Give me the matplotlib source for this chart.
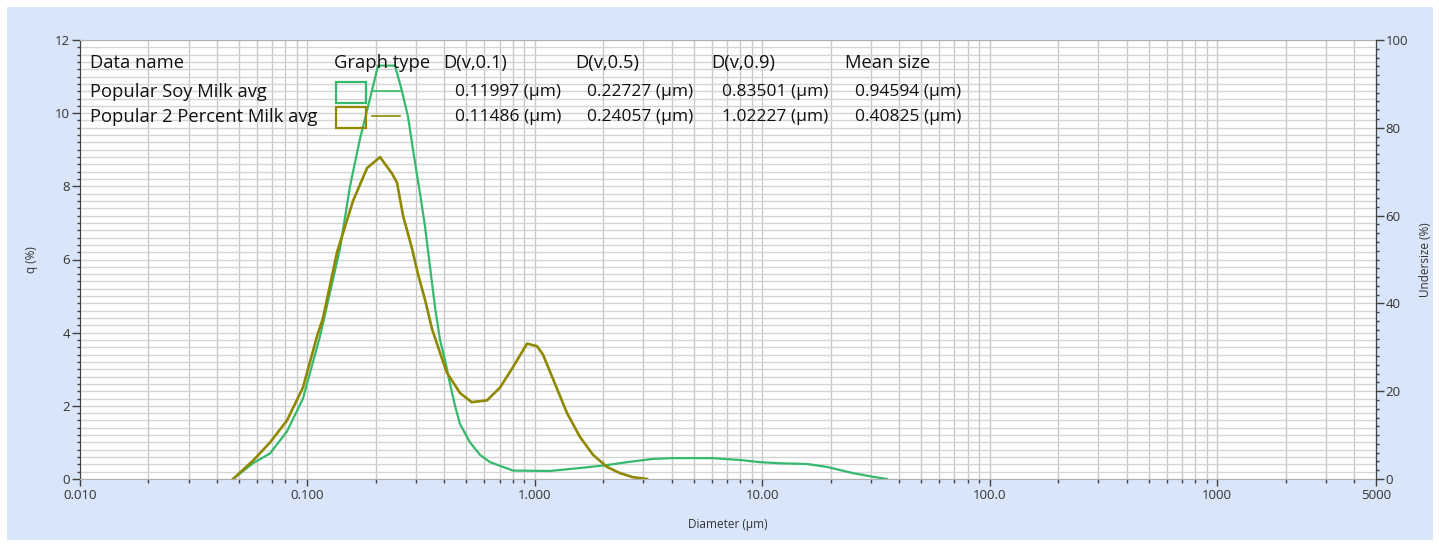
import numpy as np
import matplotlib
matplotlib.use("Agg")
import matplotlib.pyplot as plt
from matplotlib.patches import Rectangle
from matplotlib.lines import Line2D
from matplotlib.ticker import LogLocator, FixedLocator, MultipleLocator, NullFormatter

plt.rcParams['font.family'] = ['Open Sans', 'DejaVu Sans']

# particle size distributions (diameter in um, q in %)
soy_d = [0.0471, 0.0576, 0.0685, 0.0813, 0.0956, 0.1058, 0.1136, 0.1257, 0.1391, 0.1539,
         0.1703, 0.1885, 0.2044, 0.2428, 0.2606, 0.2770, 0.2913, 0.3128, 0.3290, 0.3460,
         0.3640, 0.3830, 0.4029, 0.4238, 0.4458, 0.4690, 0.5188, 0.5741, 0.6353, 0.8020,
         1.166, 1.580, 2.078, 2.544, 3.310, 4.053, 6.076, 7.989, 9.778, 11.97,
         15.74, 19.28, 25.07, 30.71, 35.38]
soy_q = [0, 0.43, 0.7, 1.3, 2.2, 3.2, 3.9, 5.1, 6.3, 8.0,
         9.3, 10.4, 11.3, 11.3, 10.6, 9.9, 9.0, 7.8, 6.9, 5.8,
         4.7, 3.8, 3.25, 2.6, 2.0, 1.5, 1.0, 0.66, 0.46, 0.23,
         0.22, 0.3, 0.38, 0.46, 0.55, 0.57, 0.57, 0.52, 0.46, 0.43,
         0.41, 0.33, 0.16, 0.06, 0]

milk_d = [0.0471, 0.0576, 0.0685, 0.0813, 0.0956, 0.1102, 0.1171, 0.1350, 0.1587, 0.1829,
          0.2086, 0.2355, 0.2477, 0.2633, 0.2884, 0.3064, 0.3290, 0.3532, 0.3830, 0.4111,
          0.4690, 0.5275, 0.6164, 0.7031, 0.8020, 0.9242, 1.0226, 1.0866, 1.227, 1.386,
          1.580, 1.803, 2.078, 2.370, 2.703, 3.114]
milk_q = [0, 0.5, 1.0, 1.6, 2.5, 3.9, 4.4, 6.2, 7.6, 8.5,
          8.8, 8.35, 8.1, 7.2, 6.3, 5.6, 4.9, 4.1, 3.45, 2.9,
          2.35, 2.1, 2.15, 2.5, 3.06, 3.7, 3.63, 3.4, 2.6, 1.8,
          1.15, 0.66, 0.33, 0.16, 0.05, 0]

names = ["Popular Soy Milk avg", "Popular 2 Percent Milk avg"]
headers = ["Data name", "Graph type", "D(v,0.1)", "D(v,0.5)", "D(v,0.9)", "Mean size"]
d10 = ["0.11997", "0.11486"]
d50 = ["0.22727", "0.24057"]
d90 = ["0.83501", "1.02227"]
mean_size = ["0.94594", "0.40825"]

x_ticks = [0.01, 0.1, 1, 10, 100, 1000, 5000]
x_labels = ["0.010", "0.100", "1.000", "10.00", "100.0", "1000", "5000"]

green = "#36b96c"
olive = "#8f8800"
W, H = 1439, 546

fig = plt.figure(figsize=(W / 100, H / 100), dpi=100)
fig.patch.set_facecolor("white")

def px(x, y):
    return x / W, 1 - y / H

# light blue panel
fig.patches.append(Rectangle(px(7, 540), 1426 / W, 533 / H, transform=fig.transFigure,
                             facecolor="#d9e5f8", edgecolor="none", zorder=-10))

ax = fig.add_axes([80 / W, (H - 479) / H, 1296 / W, 439 / H])
ax.set_facecolor("white")
ax.set_xscale("log")
ax.set_xlim(0.01, 5000)
ax.set_ylim(0, 12)

ax.plot(soy_d, soy_q, color=green, lw=1.6, zorder=3)
ax.plot(milk_d, milk_q, color=olive, lw=1.9, zorder=3)

# grid
ax.xaxis.set_major_locator(FixedLocator(x_ticks))
ax.set_xticklabels(x_labels)
ax.xaxis.set_minor_locator(LogLocator(base=10, subs=np.arange(2, 10)))
ax.xaxis.set_minor_formatter(NullFormatter())
ax.yaxis.set_major_locator(MultipleLocator(2))
ax.yaxis.set_minor_locator(MultipleLocator(0.2))
ax.grid(True, which="both", axis="x", color="#c8c8c8", lw=1.0, zorder=0)
ax.grid(True, which="both", axis="y", color="#d4d4d4", lw=1.0, zorder=0)
ax.set_axisbelow(True)

ax.tick_params(axis="x", which="major", direction="out", length=5, width=1, color="#404040",
               labelsize=9.5, labelcolor="#333333", pad=2)
ax.tick_params(axis="x", which="minor", direction="out", length=3, width=1, color="#404040")
ax.tick_params(axis="y", which="major", direction="out", length=6, width=1, color="#404040",
               labelsize=9.5, labelcolor="#333333", pad=1)
ax.tick_params(axis="y", which="minor", direction="out", length=2, width=1, color="#404040")

for side in ["top", "bottom"]:
    ax.spines[side].set_color("#b0b0b0")
ax.spines["left"].set_color("#404040")
ax.spines["right"].set_color("#404040")

ax.set_xlabel("Diameter (µm)", fontsize=8.5, color="#333333", labelpad=12)
ax.set_ylabel("q (%)", fontsize=8.5, color="#333333", labelpad=12)

ax2 = ax.twinx()
ax2.set_ylim(0, 100)
ax2.yaxis.set_major_locator(MultipleLocator(20))
ax2.yaxis.set_minor_locator(MultipleLocator(2))
ax2.tick_params(axis="y", which="major", direction="out", length=6, width=1, color="#404040",
                labelsize=9.5, labelcolor="#333333", pad=1)
ax2.tick_params(axis="y", which="minor", direction="out", length=2, width=1, color="#404040")
ax2.spines["right"].set_color("#404040")
ax2.spines["left"].set_visible(False)
ax2.spines["top"].set_visible(False)
ax2.spines["bottom"].set_visible(False)
ax2.set_ylabel("Undersize (%)", fontsize=8.5, color="#333333", labelpad=8)

# legend table
fs = 13.2
fs_val = 12.5
head_x = [90, 334, 443, 575, 711, 845]
for hx, h in zip(head_x, headers):
    fig.text(*px(hx, 63), h, fontsize=fs, color="#111111", va="center", ha="left")

colors = [green, olive]
rows_y = [92, 117]
for i in range(2):
    y = rows_y[i]
    fig.text(*px(90, y), names[i], fontsize=fs, color="#111111", va="center", ha="left")
    fig.patches.append(Rectangle(px(336, y + 11), 30 / W, 21 / H, transform=fig.transFigure,
                                 facecolor="none", edgecolor=colors[i], lw=1.6, zorder=5))
    fig.lines.append(Line2D([372 / W, 400 / W], [1 - (y - 1) / H] * 2,
                            transform=fig.transFigure, color=colors[i], lw=1.2, zorder=5))
    for vx, v in zip([455, 587, 722, 855], [d10[i], d50[i], d90[i], mean_size[i]]):
        fig.text(*px(vx, y), v + " (µm)", fontsize=fs_val, color="#111111", va="center", ha="left")

fig.savefig("out.png", dpi=100)
